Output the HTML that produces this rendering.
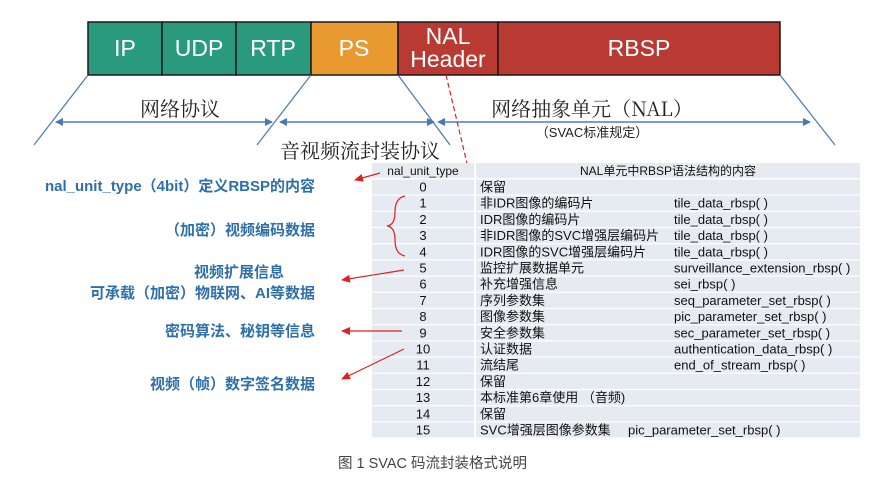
<!DOCTYPE html>
<html><head><meta charset="utf-8"><style>
body{margin:0;background:#fff;}
svg{display:block;}
text{font-family:"Liberation Sans","Noto Sans CJK SC",sans-serif;}
</style></head><body>
<svg width="877" height="481" viewBox="0 0 877 481" xmlns="http://www.w3.org/2000/svg">
<defs>
<marker id="ab" markerWidth="8" markerHeight="8" refX="7" refY="4" orient="auto" markerUnits="userSpaceOnUse"><path d="M0,0 L8,4 L0,8 z" fill="#4a78b0"/></marker>
<marker id="ar" markerWidth="9" markerHeight="8" refX="8" refY="4" orient="auto" markerUnits="userSpaceOnUse"><path d="M0,0 L9,4 L0,8 z" fill="#e02020"/></marker>
</defs>
<g stroke="#1a1a1a" stroke-width="1.5">
<rect x="88" y="22" width="74" height="53" fill="#2a9a7e"/>
<rect x="162" y="22" width="74" height="53" fill="#2a9a7e"/>
<rect x="236" y="22" width="75" height="53" fill="#2a9a7e"/>
<rect x="311" y="22" width="87" height="53" fill="#e89a30"/>
<rect x="398" y="22" width="100" height="53" fill="#b83a32"/>
<rect x="498" y="22" width="282" height="53" fill="#b83a32"/>
</g>
<g fill="#fff" font-size="23" text-anchor="middle">
<text x="125" y="56">IP</text>
<text x="199" y="56">UDP</text>
<text x="273" y="56">RTP</text>
<text x="354" y="56">PS</text>
<text x="448" y="44">NAL</text>
<text x="448" y="67">Header</text>
<text x="639" y="56">RBSP</text>
</g>
<g stroke="#4a78b0" stroke-width="1.2">
<line x1="88" y1="75" x2="34" y2="145"/>
<line x1="311" y1="75" x2="257" y2="145"/>
<line x1="398" y1="75" x2="450" y2="145"/>
<line x1="780" y1="75" x2="835" y2="145"/>
<line x1="60" y1="122" x2="272" y2="122" marker-end="url(#ab)"/>
<line x1="272" y1="122" x2="56" y2="122" marker-end="url(#ab)"/>
<line x1="282" y1="122" x2="434" y2="122" marker-end="url(#ab)"/>
<line x1="434" y1="122" x2="280" y2="122" marker-end="url(#ab)"/>
<line x1="442" y1="122" x2="810" y2="122" marker-end="url(#ab)"/>
<line x1="810" y1="122" x2="438" y2="122" marker-end="url(#ab)"/>
</g>
<g fill="#222" text-anchor="middle">
<text x="180" y="116" font-size="20" style="font-family:'Noto Serif CJK SC',serif">网络协议</text>
<text x="360" y="158" font-size="20" style="font-family:'Noto Serif CJK SC',serif">音视频流封装协议</text>
<text x="592" y="116" font-size="20" style="font-family:'Noto Serif CJK SC',serif">网络抽象单元（NAL）</text>
<text x="592" y="137" font-size="13">（SVAC标准规定）</text>
</g>
<line x1="446" y1="75" x2="470" y2="176" stroke="#e02020" stroke-width="1.2" stroke-dasharray="5,3" marker-end="url(#ar)"/>
<g fill="#e6ebf2">
<rect x="372" y="163" width="102" height="15"/><rect x="476" y="163" width="384" height="15"/>
</g>
<g id="rows"></g>
<g font-size="12" fill="#111">
<text x="423" y="175" text-anchor="middle">nal_unit_type</text>
<text x="668" y="175" text-anchor="middle">NAL单元中RBSP语法结构的内容</text>
</g>
<g font-size="13" fill="#111" id="rt"></g>
<g fill="#2e6faa" font-size="15" font-weight="bold" text-anchor="end">
<text x="315" y="191">nal_unit_type（4bit）定义RBSP的内容</text>
<text x="315" y="235">（加密）视频编码数据</text>
<text x="239" y="277" text-anchor="middle">视频扩展信息</text>
<text x="315" y="298">可承载（加密）物联网、AI等数据</text>
<text x="315" y="336">密码算法、秘钥等信息</text>
<text x="315" y="389">视频（帧）数字签名数据</text>
</g>
<g stroke="#e02020" stroke-width="1.2" fill="none">
<line x1="380" y1="173" x2="355" y2="180" marker-end="url(#ar)"/>
<line x1="404" y1="270" x2="342" y2="280" marker-end="url(#ar)"/>
<line x1="402" y1="331" x2="342" y2="331" marker-end="url(#ar)"/>
<line x1="404" y1="349" x2="342" y2="379" marker-end="url(#ar)"/>
<path d="M405,196 Q395,198 395,212 Q395,225 387,226 Q395,227 395,240 Q395,254 405,256"/>
</g>
<text x="338" y="468" font-size="14.5" fill="#444">图 1  SVAC 码流封装格式说明</text>
<script>
var rows=[["0","保留",""],["1","非IDR图像的编码片","tile_data_rbsp( )"],["2","IDR图像的编码片","tile_data_rbsp( )"],["3","非IDR图像的SVC增强层编码片","tile_data_rbsp( )"],["4","IDR图像的SVC增强层编码片","tile_data_rbsp( )"],["5","监控扩展数据单元","surveillance_extension_rbsp( )"],["6","补充增强信息","sei_rbsp( )"],["7","序列参数集","seq_parameter_set_rbsp( )"],["8","图像参数集","pic_parameter_set_rbsp( )"],["9","安全参数集","sec_parameter_set_rbsp( )"],["10","认证数据","authentication_data_rbsp( )"],["11","流结尾","end_of_stream_rbsp( )"],["12","保留",""],["13","本标准第6章使用 （音频)",""],["14","保留",""],["15","SVC增强层图像参数集",""]];
var ns="http://www.w3.org/2000/svg",g=document.getElementById("rows"),t=document.getElementById("rt");
function el(p,n,a,txt){var e=document.createElementNS(ns,n);for(var k in a)e.setAttribute(k,a[k]);if(txt)e.textContent=txt;p.appendChild(e);}
for(var i=0;i<16;i++){var y=179.5+i*16.2;
el(g,"rect",{x:372,y:y,width:102,height:15,fill:"#e6ebf2"});
el(g,"rect",{x:476,y:y,width:384,height:15,fill:"#e6ebf2"});
el(t,"text",{x:423,y:y+12,"text-anchor":"middle"},rows[i][0]);
el(t,"text",{x:480,y:y+12},rows[i][1]);
if(rows[i][2])el(t,"text",{x:674,y:y+12},rows[i][2]);}
el(t,"text",{x:628,y:179.5+15*16.2+12},"pic_parameter_set_rbsp( )");
</script>
</svg>
</body></html>
